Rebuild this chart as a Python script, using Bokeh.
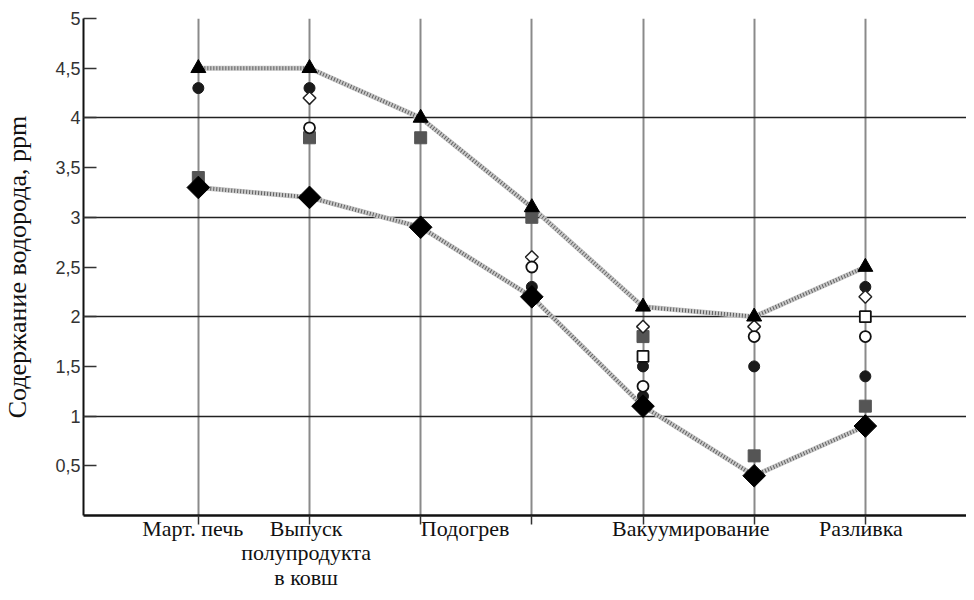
import math
import numpy as np
from bokeh.plotting import figure
from bokeh.models import FixedTicker, Range1d, LinearAxis
from bokeh.embed import file_html
from bokeh.resources import INLINE

# Stage positions (0..6) along the process
stages = [0, 1, 2, 3, 4, 5, 6]
nan = float("nan")

# Series (ppm)
triangle_vals = [4.5, 4.5, 4.0, 3.1, 2.1, 2.0, 2.5]
diamond_vals = [3.3, 3.2, 2.9, 2.2, 1.1, 0.4, 0.9]
gray_square_vals = [3.4, 3.8, 3.8, 3.0, 1.8, 0.6, 1.1]
dot_a_vals = [4.3, 4.3, nan, 2.3, 1.5, 1.5, 2.3]
dot_b_vals = [nan, nan, nan, nan, 1.2, nan, 1.4]
open_diamond_vals = [nan, 4.2, nan, 2.6, 1.9, 1.9, 2.2]
open_circle_vals = [nan, 3.9, nan, 2.5, 1.3, 1.8, 1.8]
open_square_vals = [nan, nan, nan, nan, 1.6, nan, 2.0]

# Category labels and where they sit along the axis
cat_positions = [-0.05, 0.97, 2.4, 4.43, 5.96]
cat_names = ["Март. печь", "Выпуск\nполупродукта\nв ковш", "Подогрев", "Вакуумирование", "Разливка"]

y_ticks = [0.5, 1, 1.5, 2, 2.5, 3, 3.5, 4, 4.5, 5]
y_tick_labels = ["0,5", "1", "1,5", "2", "2,5", "3", "3,5", "4", "4,5", "5"]

p = figure(width=966, height=592, output_backend="svg", toolbar_location=None,
           x_range=Range1d(-1.033, 6.91), y_range=Range1d(0, 5),
           min_border_left=82, min_border_right=0, min_border_top=18, min_border_bottom=76)
p.outline_line_color = None
p.background_fill_color = "white"

# grids
p.xgrid.ticker = FixedTicker(ticks=stages)
p.xgrid.grid_line_color = "#8a8a8a"
p.xgrid.grid_line_width = 2
p.ygrid.ticker = FixedTicker(ticks=[1, 2, 3, 4, 5])
p.ygrid.grid_line_color = "#222222"
p.ygrid.grid_line_width = 1.5

# y axis
p.yaxis.ticker = FixedTicker(ticks=y_ticks)
p.yaxis.major_label_overrides = {t: l for t, l in zip(y_ticks, y_tick_labels)}
p.yaxis.major_tick_in = 13
p.yaxis.major_tick_out = 0
p.yaxis.minor_tick_line_color = None
p.yaxis.major_tick_line_color = "#333333"
p.yaxis.major_tick_line_width = 1.5
p.yaxis.axis_line_color = "#111111"
p.yaxis.axis_line_width = 2
p.yaxis.major_label_text_font = "Liberation Sans"
p.yaxis.major_label_text_font_size = "18px"
p.yaxis.major_label_text_color = "#333333"
p.yaxis.major_label_standoff = 3
p.yaxis.axis_label = "Содержание водорода, ppm"
p.yaxis.axis_label_text_font = "Liberation Serif"
p.yaxis.axis_label_text_font_style = "normal"
p.yaxis.axis_label_text_font_size = "26px"
p.yaxis.axis_label_text_color = "#111111"
p.yaxis.axis_label_standoff = 20

# x axis: tick marks only
p.xaxis.ticker = FixedTicker(ticks=stages)
p.xaxis.major_label_overrides = {s: "" for s in stages}
p.xaxis.major_label_standoff = 0
p.xaxis.major_tick_in = 0
p.xaxis.major_tick_out = 9
p.xaxis.major_tick_line_color = "#333333"
p.xaxis.major_tick_line_width = 1.5
p.xaxis.minor_tick_line_color = None
p.xaxis.axis_line_color = "#111111"
p.xaxis.axis_line_width = 2.5

# second axis carrying the stage names
lab_axis = LinearAxis(ticker=FixedTicker(ticks=cat_positions))
lab_axis.major_label_overrides = {pos: name for pos, name in zip(cat_positions, cat_names)}
lab_axis.axis_line_color = None
lab_axis.major_tick_line_color = None
lab_axis.minor_tick_line_color = None
lab_axis.major_tick_out = 0
lab_axis.major_tick_in = 0
lab_axis.major_label_standoff = -9
lab_axis.major_label_text_font = "Liberation Serif"
lab_axis.major_label_text_font_size = "22px"
lab_axis.major_label_text_color = "#111111"
lab_axis.major_label_text_line_height = 0.98
p.add_layout(lab_axis, "below")

# textured connecting lines
for vals in (triangle_vals, diamond_vals):
    p.line(stages, vals, line_color="#c8c8c8", line_width=5)
    p.line(stages, vals, line_color="#606060", line_width=4, line_dash="1 2")

rot = math.pi / 4

# markers
p.scatter(stages, gray_square_vals, marker="square", size=12, fill_color="#555555", line_color="#555555")
p.scatter(stages, dot_a_vals, marker="circle", size=11, fill_color="#1a1a1a", line_color="#1a1a1a")
p.scatter(stages, dot_b_vals, marker="circle", size=11, fill_color="#1a1a1a", line_color="#1a1a1a")
p.scatter(stages, open_diamond_vals, marker="square", angle=rot, size=9, fill_color="white",
          line_color="#222222", line_width=1.5)
p.scatter(stages, open_circle_vals, marker="circle", size=11, fill_color="white", line_color="#111111", line_width=1.8)
p.scatter(stages, open_square_vals, marker="square", size=11, fill_color="white", line_color="#111111", line_width=1.8)
p.scatter(stages, diamond_vals, marker="square", angle=rot, size=16, fill_color="black", line_color="black")
p.scatter(stages, triangle_vals, marker="triangle", size=15, fill_color="black", line_color="black")

open("out.html", "w").write(file_html(p, INLINE))
